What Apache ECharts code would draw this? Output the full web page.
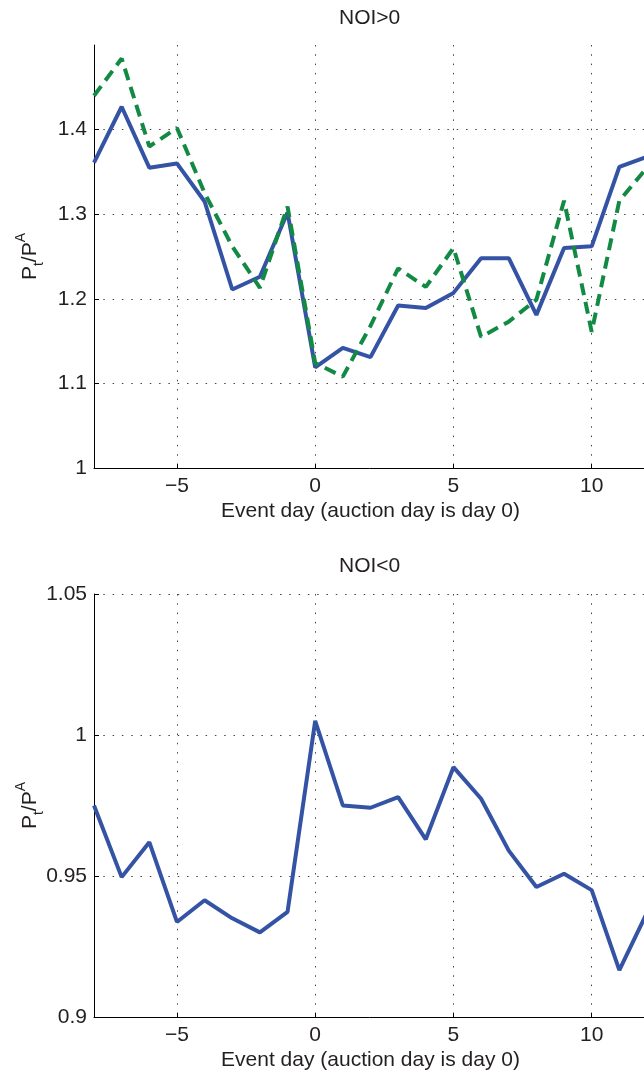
<!DOCTYPE html>
<html>
<head>
<meta charset="utf-8">
<script src="https://cdn.jsdelivr.net/npm/echarts@6/dist/echarts.min.js"></script>
<style>
html,body{margin:0;padding:0;background:#fff;}
#chart{width:644px;height:1075px;}
</style>
</head>
<body>
<div id="chart"></div>
<script>
// ---- data ----
const days = [-8,-7,-6,-5,-4,-3,-2,-1,0,1,2,3,4,5,6,7,8,9,10,11,12];
const topSolid  = [1.361,1.427,1.355,1.360,1.315,1.211,1.226,1.302,1.119,1.142,1.131,1.192,1.189,1.207,1.248,1.248,1.181,1.260,1.262,1.356,1.368];
const topDashed = [1.440,1.484,1.380,1.402,1.325,1.262,1.213,1.309,1.124,1.108,1.168,1.236,1.214,1.260,1.155,1.173,1.199,1.316,1.161,1.316,1.355];
const bottomSolid = [0.975,0.9496,0.962,0.9337,0.9414,0.935,0.930,0.9373,1.005,0.975,0.9742,0.978,0.963,0.9886,0.9774,0.959,0.9461,0.9508,0.945,0.9166,0.937];
const titles = ['NOI>0','NOI<0'];
const xName = 'Event day (auction day is day 0)';
const yName = '{p|P}{sub|t}{p|/P}{sup|A}';

const pair = (arr) => days.map((d, i) => [d, arr[i]]);

const FONT = 'Liberation Sans, Arial, Helvetica, sans-serif';
const FS = 21;
const TXT = '#231f20';
const BLUE = '#3553a4';
const GREEN = '#138a43';
const dotted = { color: '#444', width: 1, type: [1.5, 7.8] };

function xAxisCfg(gi) {
  return {
    type: 'value', gridIndex: gi, min: -8, max: 12,
    minInterval: 5, maxInterval: 5,
    name: xName, nameLocation: 'middle', nameGap: 33, nameMoveOverlap: false,
    nameTextStyle: { fontFamily: FONT, fontSize: FS, color: TXT },
    axisLine: { show: true, onZero: false, lineStyle: { color: '#000', width: 1 } },
    axisTick: { show: true, inside: true, length: 4, lineStyle: { color: '#000' } },
    axisLabel: {
      show: true, margin: 8, showMinLabel: false, showMaxLabel: false,
      fontFamily: FONT, fontSize: FS, color: TXT,
      formatter: v => String(v).replace('-', '\u2212')
    },
    splitLine: { show: true, showMinLine: false, showMaxLine: false, lineStyle: dotted }
  };
}

function yAxisCfg(gi, min, max, interval, showMax) {
  return {
    type: 'value', gridIndex: gi, min: min, max: max, interval: interval,
    name: yName, nameLocation: 'middle', nameGap: 48, nameRotate: 90, nameMoveOverlap: false,
    nameTextStyle: {
      fontFamily: FONT, color: TXT,
      rich: {
        p: { fontFamily: FONT, fontSize: FS, color: TXT, lineHeight: 32, verticalAlign: 'middle' },
        sub: { fontFamily: FONT, fontSize: 14, color: TXT, lineHeight: 32, verticalAlign: 'bottom' },
        sup: { fontFamily: FONT, fontSize: 14, color: TXT, lineHeight: 32, verticalAlign: 'top' }
      }
    },
    axisLine: { show: true, onZero: false, lineStyle: { color: '#000', width: 1 } },
    axisTick: { show: true, inside: true, length: 5, lineStyle: { color: '#000' } },
    axisLabel: {
      show: true, margin: 7, showMaxLabel: showMax,
      fontFamily: FONT, fontSize: FS, color: TXT,
      formatter: v => String(Math.round(v * 100) / 100)
    },
    splitLine: { show: true, showMinLine: false, showMaxLine: showMax, lineStyle: dotted }
  };
}

const chart = echarts.init(document.getElementById('chart'), null, { renderer: 'canvas' });
chart.setOption({
  backgroundColor: '#fff',
  animation: false,
  title: [
    { text: titles[0], left: 339, top: 8, padding: 0, textStyle: { fontFamily: FONT, fontSize: FS, fontWeight: 'normal', color: TXT } },
    { text: titles[1], left: 339, top: 556, padding: 0, textStyle: { fontFamily: FONT, fontSize: FS, fontWeight: 'normal', color: TXT } }
  ],
  grid: [
    { left: 94, right: -3, top: 45, height: 423, containLabel: false, outerBoundsMode: 'none' },
    { left: 94, right: -3, top: 594, height: 423, containLabel: false, outerBoundsMode: 'none' }
  ],
  xAxis: [xAxisCfg(0), xAxisCfg(1)],
  yAxis: [yAxisCfg(0, 1.0, 1.5, 0.1, false), yAxisCfg(1, 0.9, 1.05, 0.05, true)],
  series: [
    { type: 'line', xAxisIndex: 0, yAxisIndex: 0, data: pair(topSolid), showSymbol: false, symbol: 'none',
      lineStyle: { color: BLUE, width: 4 }, clip: true, z: 3 },
    { type: 'line', xAxisIndex: 0, yAxisIndex: 0, data: pair(topDashed), showSymbol: false, symbol: 'none',
      lineStyle: { color: GREEN, width: 4, type: [12, 7] }, clip: true, z: 4 },
    { type: 'line', xAxisIndex: 1, yAxisIndex: 1, data: pair(bottomSolid), showSymbol: false, symbol: 'none',
      lineStyle: { color: BLUE, width: 4 }, clip: true, z: 3 }
  ]
});
</script>
</body>
</html>
